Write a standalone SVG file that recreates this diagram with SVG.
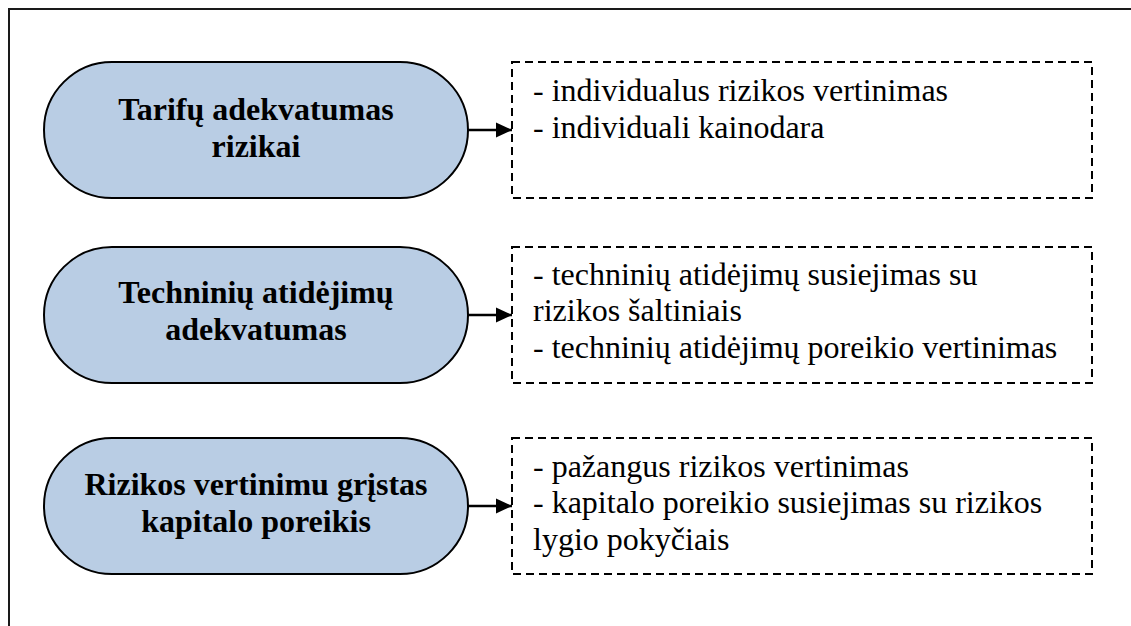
<svg xmlns="http://www.w3.org/2000/svg" width="1131" height="626" viewBox="0 0 1131 626">
<style>
.frame{fill:none;stroke:#1a1a1a;stroke-width:2}
.pill{fill:#B9CDE4;stroke:#000;stroke-width:2}
.box{fill:#fff;stroke:#000;stroke-width:2;stroke-dasharray:8 5}
.title{font-family:'Liberation Serif','Times New Roman',serif;font-size:32px;fill:#000;font-weight:bold;text-anchor:middle}
.item{font-family:'Liberation Serif','Times New Roman',serif;font-size:32px;fill:#000}
.conn{stroke:#000;stroke-width:2.5;fill:none}
</style>
<defs>
<marker id="arr" markerUnits="userSpaceOnUse" markerWidth="16" markerHeight="16" refX="16" refY="8" orient="auto">
<path d="M0,0.5 L16,8 L0,15.5 Z" fill="#000"/>
</marker>
</defs>
<rect class="frame" x="9" y="9" width="1140" height="640"/>
<g id="node1">
<rect class="pill" x="44" y="62" width="424" height="136" rx="68" ry="68"/>
<text class="title" x="256" y="120">Tarifų adekvatumas</text>
<text class="title" x="256" y="157">rizikai</text>
</g>
<g id="box1">
<rect class="box" x="512" y="62" width="580" height="136"/>
<text class="item" x="533" y="101">- individualus rizikos vertinimas</text>
<text class="item" x="533" y="138">- individuali kainodara</text>
</g>
<g id="node2">
<rect class="pill" x="44" y="247" width="424" height="136" rx="68" ry="68"/>
<text class="title" x="256" y="303">Techninių atidėjimų</text>
<text class="title" x="256" y="340">adekvatumas</text>
</g>
<g id="box2">
<rect class="box" x="512" y="247" width="580" height="136"/>
<text class="item" x="533" y="285">- techninių atidėjimų susiejimas su</text>
<text class="item" x="533" y="321">rizikos šaltiniais</text>
<text class="item" x="533" y="358">- techninių atidėjimų poreikio vertinimas</text>
</g>
<g id="node3">
<rect class="pill" x="44" y="438" width="424" height="136" rx="68" ry="68"/>
<text class="title" x="256" y="495">Rizikos vertinimu grįstas</text>
<text class="title" x="256" y="532">kapitalo poreikis</text>
</g>
<g id="box3">
<rect class="box" x="512" y="438" width="580" height="136"/>
<text class="item" x="533" y="477">- pažangus rizikos vertinimas</text>
<text class="item" x="533" y="513">- kapitalo poreikio susiejimas su rizikos</text>
<text class="item" x="533" y="550">lygio pokyčiais</text>
</g>
<g id="connectors">
<line class="conn" x1="468" y1="130" x2="512" y2="130" marker-end="url(#arr)"/>
<line class="conn" x1="468" y1="315" x2="512" y2="315" marker-end="url(#arr)"/>
<line class="conn" x1="468" y1="506" x2="512" y2="506" marker-end="url(#arr)"/>
</g>
</svg>
